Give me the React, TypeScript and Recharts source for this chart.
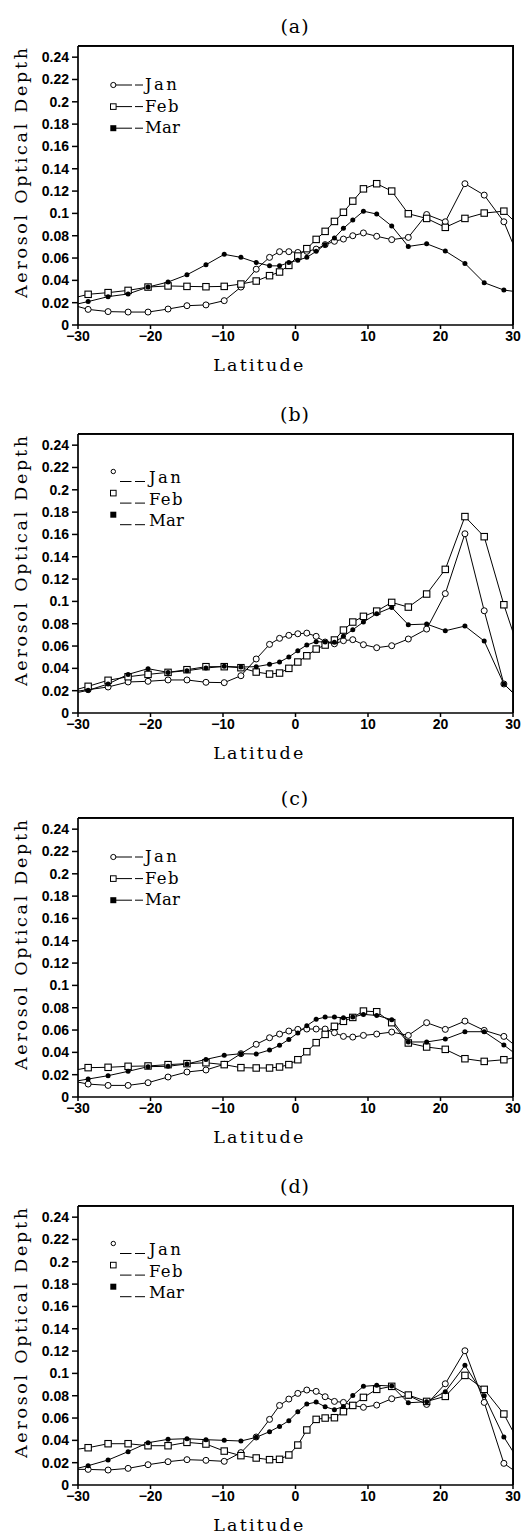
import React from 'react'
import { LineChart, Line, XAxis, YAxis, ReferenceLine } from 'recharts'

// model latitude grid; the first and last rows sit just outside the -30..30 window
const LATITUDES = [
  -31.35, -28.6, -25.85, -23.09, -20.34, -17.58, -14.97, -12.35, -9.83, -7.53,
  -5.42, -3.58, -2.2, -0.92, 0.32, 1.56, 2.85, 4.09, 5.37, 6.61,
  7.9, 9.37, 11.2, 13.27, 15.56, 18.09, 20.66, 23.37, 26.03, 28.74, 31.45,
]

// (a)
const JAN_A = [0.019, 0.014, 0.012, 0.0116, 0.0116, 0.0143, 0.0173, 0.018, 0.0218, 0.034, 0.05, 0.0606, 0.0657, 0.0657, 0.065, 0.066, 0.068, 0.072, 0.075, 0.077, 0.08, 0.0825, 0.0795, 0.0765, 0.0785, 0.099, 0.0925, 0.1266, 0.1164, 0.0925, 0.05]
const FEB_A = [0.023, 0.0275, 0.029, 0.031, 0.034, 0.035, 0.0346, 0.0343, 0.0346, 0.0367, 0.0394, 0.0442, 0.0475, 0.0534, 0.0618, 0.0684, 0.0767, 0.0839, 0.0928, 0.101, 0.111, 0.122, 0.1266, 0.12, 0.0997, 0.0955, 0.0875, 0.0955, 0.1003, 0.102, 0.085]
const MAR_A = [0.017, 0.021, 0.0254, 0.0278, 0.034, 0.0385, 0.045, 0.054, 0.0633, 0.0606, 0.056, 0.053, 0.053, 0.056, 0.058, 0.0606, 0.066, 0.072, 0.078, 0.0866, 0.094, 0.102, 0.0994, 0.0887, 0.0704, 0.0728, 0.0663, 0.0552, 0.0379, 0.0313, 0.029]

// (b)
const JAN_B = [0.0185, 0.0209, 0.0233, 0.0278, 0.0284, 0.0296, 0.0296, 0.0275, 0.0272, 0.0334, 0.0484, 0.0615, 0.0669, 0.0696, 0.071, 0.0716, 0.0687, 0.0636, 0.062, 0.0648, 0.0657, 0.0612, 0.0585, 0.0603, 0.0663, 0.0752, 0.107, 0.1606, 0.0916, 0.026, 0.009]
const FEB_B = [0.019, 0.0239, 0.0293, 0.0325, 0.0346, 0.0364, 0.0388, 0.0415, 0.0415, 0.0406, 0.0367, 0.0349, 0.0358, 0.04, 0.0457, 0.0513, 0.0573, 0.0609, 0.0654, 0.0743, 0.0815, 0.0866, 0.0913, 0.0991, 0.0949, 0.1066, 0.1287, 0.176, 0.158, 0.097, 0.044]
const MAR_B = [0.0167, 0.0203, 0.026, 0.0346, 0.0397, 0.0364, 0.0379, 0.0403, 0.0418, 0.0412, 0.0415, 0.0436, 0.0457, 0.0501, 0.0558, 0.0609, 0.0639, 0.0636, 0.0633, 0.0687, 0.0746, 0.0815, 0.089, 0.0946, 0.0791, 0.0797, 0.0737, 0.0779, 0.0645, 0.026, 0.009]

// (c)
const JAN_C = [0.015, 0.0116, 0.0104, 0.0104, 0.0128, 0.0179, 0.0224, 0.0242, 0.0293, 0.0388, 0.0472, 0.0531, 0.0564, 0.0591, 0.0606, 0.0609, 0.0609, 0.0609, 0.0576, 0.0543, 0.0537, 0.0552, 0.0564, 0.0582, 0.0552, 0.0666, 0.0606, 0.068, 0.0597, 0.0543, 0.04]
const FEB_C = [0.023, 0.0263, 0.0266, 0.0275, 0.0278, 0.029, 0.0299, 0.0307, 0.029, 0.0263, 0.026, 0.026, 0.0269, 0.029, 0.0334, 0.0406, 0.0487, 0.0561, 0.0633, 0.0678, 0.0713, 0.077, 0.0764, 0.0666, 0.0484, 0.0448, 0.0427, 0.0343, 0.0319, 0.0334, 0.037]
const MAR_C = [0.013, 0.0161, 0.0191, 0.023, 0.0272, 0.0275, 0.0296, 0.0337, 0.0373, 0.0388, 0.0385, 0.0421, 0.0463, 0.0516, 0.0573, 0.0639, 0.0696, 0.0716, 0.0716, 0.071, 0.0716, 0.074, 0.0731, 0.0693, 0.0493, 0.0493, 0.0519, 0.0585, 0.0585, 0.0466, 0.033]

// (d)
const JAN_D = [0.014, 0.014, 0.0134, 0.0149, 0.0182, 0.0209, 0.0227, 0.0221, 0.0212, 0.029, 0.043, 0.0588, 0.0713, 0.077, 0.0821, 0.0851, 0.0839, 0.0791, 0.0749, 0.074, 0.0713, 0.0696, 0.0716, 0.0773, 0.0803, 0.0722, 0.0907, 0.1203, 0.074, 0.0194, 0.007]
const FEB_D = [0.031, 0.0334, 0.037, 0.037, 0.0352, 0.0352, 0.0382, 0.0367, 0.0304, 0.0263, 0.0242, 0.0227, 0.023, 0.0269, 0.0358, 0.0493, 0.0588, 0.06, 0.0603, 0.0657, 0.0713, 0.0785, 0.0857, 0.0884, 0.0806, 0.0749, 0.0794, 0.0982, 0.0857, 0.0636, 0.03]
const MAR_D = [0.013, 0.0173, 0.0224, 0.0299, 0.0379, 0.0409, 0.0415, 0.0406, 0.04, 0.0394, 0.0427, 0.0478, 0.0525, 0.0576, 0.0657, 0.0725, 0.0743, 0.0701, 0.0675, 0.0704, 0.0803, 0.0884, 0.0893, 0.0887, 0.0737, 0.0746, 0.0836, 0.1072, 0.08, 0.043, 0.015]

const MONTHS = ['Jan', 'Feb', 'Mar']
const X_TICKS = [-30, -20, -10, 0, 10, 20, 30]
const Y_TICKS = [0, 0.02, 0.04, 0.06, 0.08, 0.1, 0.12, 0.14, 0.16, 0.18, 0.2, 0.22, 0.24]
const X_TITLE = 'Latitude'
const Y_TITLE = 'Aerosol Optical Depth'

const PANELS = [
  { title: '(a)', top: 0, legend: 'mid', jan: JAN_A, feb: FEB_A, mar: MAR_A },
  { title: '(b)', top: 388, legend: 'low', jan: JAN_B, feb: FEB_B, mar: MAR_B },
  { title: '(c)', top: 772, legend: 'mid', jan: JAN_C, feb: FEB_C, mar: MAR_C },
  { title: '(d)', top: 1160, legend: 'low', jan: JAN_D, feb: FEB_D, mar: MAR_D },
]

const SERIF = '"DejaVu Serif", "Liberation Serif", serif'
const TICK_FONT = { fontFamily: '"Liberation Sans", Arial, sans-serif', fontWeight: 700, fontSize: 14, fill: '#000' }

// plot box inside each chart (chart pixels)
const PLOT = { left: 78, top: 46, right: 513, bottom: 325 }

const inRange = (p: any) => p && p.lat >= -30 && p.lat <= 30

// markers
const OpenCircle = (props: any) => {
  const { cx, cy, index, payload } = props
  if (!inRange(payload) || cx == null) return <g key={`o-${index}`} />
  return <circle key={`o-${index}`} cx={cx} cy={cy} r={3} fill="#fff" stroke="#000" strokeWidth={1} />
}
const OpenSquare = (props: any) => {
  const { cx, cy, index, payload } = props
  if (!inRange(payload) || cx == null) return <g key={`s-${index}`} />
  return <rect key={`s-${index}`} x={cx - 3.2} y={cy - 3.2} width={6.4} height={6.4} fill="#fff" stroke="#000" strokeWidth={1.1} />
}
const FilledCircle = (props: any) => {
  const { cx, cy, index, payload } = props
  if (!inRange(payload) || cx == null) return <g key={`f-${index}`} />
  return <circle key={`f-${index}`} cx={cx} cy={cy} r={2.5} fill="#000" stroke="none" />
}

const xTick = (v: number) => (v < 0 ? `\u2212${Math.abs(v)}` : String(v))
const yTick = (v: number) => String(Number(v.toFixed(2)))

// legend rows drawn in the upper left of the frame
const LegendRows = ({ variant }: { variant: string }) => {
  const low = variant === 'low'
  return (
    <g transform="translate(100, 71)">
      {MONTHS.map((m, i) => {
        const base = i * 21.6
        const my = base + (low ? 12.5 : 14)
        const ly = base + (low ? 22.5 : 14)
        const ty = base + (low ? 24 : 19)
        const tx = low ? 49 : 45
        const mk =
          i === 0 ? (
            <circle cx={13.3} cy={my} r={low ? 2.2 : 2.6} fill="#fff" stroke="#000" strokeWidth={1} />
          ) : i === 1 ? (
            <rect x={10.5} y={my - 2.8} width={5.6} height={5.6} fill="#fff" stroke="#000" strokeWidth={1} />
          ) : (
            <rect x={10.3} y={my - 3} width={6} height={6} fill="#000" />
          )
        return (
          <g key={m}>
            {low ? (
              <>
                <line x1={20} y1={ly} x2={31.5} y2={ly} stroke="#000" strokeWidth={1} />
                <line x1={35} y1={ly} x2={45} y2={ly} stroke="#000" strokeWidth={1} />
              </>
            ) : (
              <>
                <line x1={16} y1={ly} x2={32} y2={ly} stroke="#000" strokeWidth={1} />
                <line x1={35} y1={ly} x2={43} y2={ly} stroke="#000" strokeWidth={1} />
              </>
            )}
            {mk}
            <text x={tx} y={ty} fontFamily={SERIF} fontSize={16.5} textLength={32 + i * 1.5} lengthAdjust="spacing" fill="#000">
              {m}
            </text>
          </g>
        )
      })}
    </g>
  )
}

// frame top/right edges (solid filled strips) and legend, laid over the chart
const Overlay = ({ variant }: { variant: string }) => (
  <svg width={521} height={375} style={{ position: 'absolute', left: 0, top: 0, pointerEvents: 'none' }}>
    <rect x={PLOT.left} y={PLOT.top - 1} width={PLOT.right - PLOT.left + 1} height={1.6} fill="#000" />
    <rect x={PLOT.right - 0.6} y={PLOT.top - 1} width={1.6} height={PLOT.bottom - PLOT.top + 1} fill="#000" />
    <line x1={PLOT.left} y1={PLOT.top} x2={PLOT.right} y2={PLOT.top} stroke="#000" strokeWidth={1.2} />
    <line x1={PLOT.right} y1={PLOT.top} x2={PLOT.right} y2={PLOT.bottom} stroke="#000" strokeWidth={1.2} />
    <LegendRows variant={variant} />
  </svg>
)

const PanelTitle = ({ text }: { text: string }) => (
  <text x={295} y={33} textAnchor="middle" fontFamily={SERIF} fontSize={19} letterSpacing={1} fill="#000">
    {text}
  </text>
)
const XTitle = () => (
  <text x={213.3} y={371} fontFamily={SERIF} fontSize={17.5} textLength={90} lengthAdjust="spacing" fill="#000">
    {X_TITLE}
  </text>
)
const YTitle = () => (
  <text x={21} y={173} transform="rotate(-90, 21, 173)" textAnchor="middle" dominantBaseline="central" fontFamily={SERIF} fontSize={17.5} textLength={250} lengthAdjust="spacing" fill="#000">
    {Y_TITLE}
  </text>
)

const Panel = ({ panel }: { panel: (typeof PANELS)[number] }) => {
  const rows = LATITUDES.map((lat, i) => ({ lat, jan: panel.jan[i], feb: panel.feb[i], mar: panel.mar[i] }))
  return (
    <div style={{ position: 'absolute', left: 0, top: panel.top, width: 521, height: 375 }}>
      <LineChart width={521} height={375} data={rows} margin={{ top: 46, right: 8, bottom: 20, left: 28 }}>
        <XAxis
          dataKey="lat"
          type="number"
          domain={[-30, 30]}
          allowDataOverflow
          ticks={X_TICKS}
          tickFormatter={xTick}
          tick={TICK_FONT}
          tickSize={4}
          tickMargin={2}
          height={30}
          axisLine={{ stroke: '#000', strokeWidth: 1.7 }}
          tickLine={{ stroke: '#000', strokeWidth: 1.5 }}
          label={<XTitle />}
        />
        <YAxis
          type="number"
          domain={[0, 0.25]}
          allowDataOverflow
          ticks={Y_TICKS}
          tickFormatter={yTick}
          tick={TICK_FONT}
          tickSize={6}
          tickMargin={3}
          width={50}
          axisLine={{ stroke: '#000', strokeWidth: 1.7 }}
          tickLine={{ stroke: '#000', strokeWidth: 1.5 }}
          label={<YTitle />}
        />
        <ReferenceLine y={0.25} stroke="#000" strokeWidth={1.3} ifOverflow="visible" label={<PanelTitle text={panel.title} />} />
        <ReferenceLine x={30} stroke="#000" strokeWidth={1.3} ifOverflow="visible" />
        <Line type="linear" dataKey="jan" stroke="#000" strokeWidth={1} dot={OpenCircle} activeDot={false} isAnimationActive={false} />
        <Line type="linear" dataKey="feb" stroke="#000" strokeWidth={1} dot={OpenSquare} activeDot={false} isAnimationActive={false} />
        <Line type="linear" dataKey="mar" stroke="#000" strokeWidth={1} dot={FilledCircle} activeDot={false} isAnimationActive={false} />
      </LineChart>
      <Overlay variant={panel.legend} />
    </div>
  )
}

export default function App() {
  return (
    <div style={{ position: 'absolute', left: 0, top: 0, width: 521, height: 1534, background: '#fff' }}>
      {PANELS.map((p) => (
        <Panel key={p.title} panel={p} />
      ))}
    </div>
  )
}
